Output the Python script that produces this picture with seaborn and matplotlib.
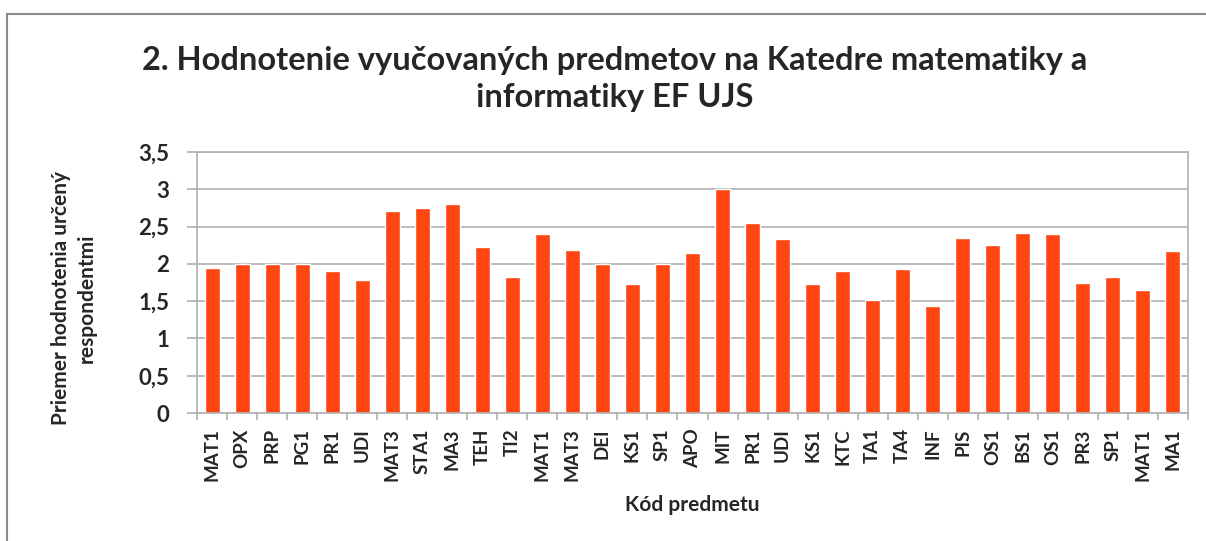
import matplotlib
matplotlib.use("Agg")
import matplotlib.pyplot as plt
import seaborn as sns
import pandas as pd
import numpy as np

# subject codes (codes repeat, so bars are placed by position)
subjects = ["MAT1", "OPX", "PRP", "PG1", "PR1", "UDI", "MAT3", "STA1", "MA3", "TEH",
            "TI2", "MAT1", "MAT3", "DEI", "KS1", "SP1", "APO", "MIT", "PR1", "UDI",
            "KS1", "KTC", "TA1", "TA4", "INF", "PIS", "OS1", "BS1", "OS1", "PR3",
            "SP1", "MAT1", "MA1"]
ratings = [1.95, 2.00, 2.00, 2.00, 1.91, 1.78, 2.71, 2.75, 2.80, 2.22,
           1.83, 2.40, 2.19, 2.00, 1.73, 2.00, 2.14, 3.00, 2.55, 2.33,
           1.73, 1.90, 1.52, 1.93, 1.43, 2.35, 2.25, 2.41, 2.40, 1.75,
           1.82, 1.65, 2.17]
y_ticks = [0, 0.5, 1, 1.5, 2, 2.5, 3, 3.5]
y_tick_labels = ["0", "0,5", "1", "1,5", "2", "2,5", "3", "3,5"]

df = pd.DataFrame({"pos": np.arange(len(subjects)), "rating": ratings})

sns.set_theme(style="white")
plt.rcParams["font.family"] = ["Lato", "DejaVu Sans"]

fig = plt.figure(figsize=(12.06, 5.41), dpi=100)
ax = fig.add_axes([197 / 1206, 1 - 413 / 541, (1188 - 197) / 1206, (413 - 152) / 541])

sns.barplot(data=df, x="pos", y="rating", color="#FF4511", saturation=1,
            width=0.5, ax=ax)

ax.set_ylim(0, 3.5)
ax.set_xlim(-0.5, len(subjects) - 0.5)
ax.set_yticks(y_ticks)
ax.set_yticklabels(y_tick_labels, fontsize=16, fontweight="bold")
ax.set_xticks(np.arange(len(subjects)))
ax.set_xticklabels(subjects, rotation=90, fontsize=13.5, fontweight="bold")
ax.set_xticks(np.arange(len(subjects) + 1) - 0.5, minor=True)
ax.tick_params(axis="x", which="major", length=0, pad=11)
ax.tick_params(axis="x", which="minor", length=5, color="#b0b0b0", width=1.2, bottom=True)
ax.tick_params(axis="y", length=7, color="#b0b0b0", width=1.2, left=True, pad=13)
ax.grid(axis="y", color="#b0b0b0", linewidth=1.2)
ax.set_axisbelow(True)
for side in ["left", "bottom", "right", "top"]:
    ax.spines[side].set_color("#b0b0b0")
    ax.spines[side].set_linewidth(1.2)

ax.set_xlabel("Kód predmetu", fontsize=15, fontweight="bold", labelpad=10)
ax.set_ylabel("Priemer hodnotenia určený\nrespondentmi", fontsize=15,
              fontweight="bold", linespacing=1.35)
ax.yaxis.set_label_coords(-0.101, 0.44)

fig.text(0.51, 1 - 79 / 541, "2. Hodnotenie vyučovaných predmetov na Katedre matematiky a\ninformatiky EF UJS",
         ha="center", va="center", fontsize=23.5, fontweight="bold", linespacing=1.35)

# chart area border
fig.patches.append(plt.Rectangle((7 / 1206, -0.1), 1.2, 1 - 14 / 541 + 0.1,
                                 transform=fig.transFigure, fill=False,
                                 edgecolor="#8a8a8a", linewidth=1.5))

fig.savefig("out.png", dpi=100)
